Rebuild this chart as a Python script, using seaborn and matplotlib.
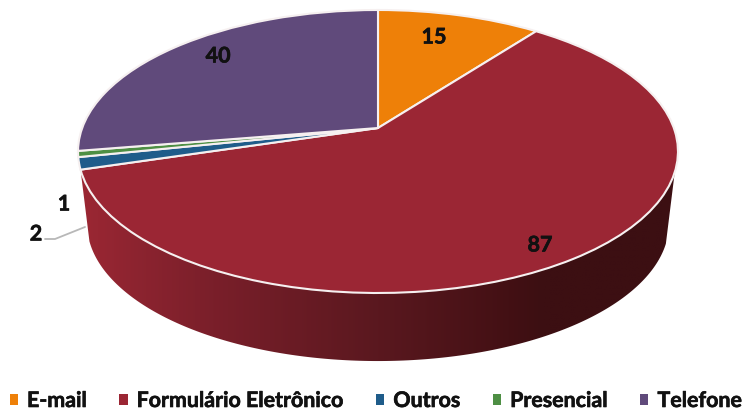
import numpy as np
import matplotlib
matplotlib.use("Agg")
import matplotlib.pyplot as plt
import matplotlib.patheffects as pe
import seaborn as sns
from matplotlib.colors import LinearSegmentedColormap
from matplotlib.patches import Patch, Polygon
from matplotlib.transforms import Transform

categories = ["E-mail", "Formulário Eletrônico", "Outros", "Presencial", "Telefone"]
values = [15, 87, 2, 1, 40]
colors = ["#ee8008", "#9b2634", "#1f5c8a", "#4e8f44", "#604a7b"]
label_px = [(434, 37), (540, 245), (36, 234), (64, 204), (218, 56)]

sns.set_theme(style="white")
plt.rcParams["font.family"] = ["Lato", "DejaVu Sans"]
plt.rcParams["font.weight"] = "bold"

W, H = 744, 412
CX, CY, A, B, K = 378.0, 128.0, 295.8, 137.6, 0.166
WALL_SCALE, WALL_DROP = 0.97, 73.0
WALL_END_DEG = -17.7
HEAVY = [pe.withStroke(linewidth=0.45, foreground="#111111")]


class Perspective(Transform):
    """Tilts the unit-circle pie into pixel space."""
    input_dims = 2
    output_dims = 2
    is_separable = False
    has_inverse = False

    def transform_non_affine(self, v):
        v = np.asarray(v, dtype=float)
        w = 1 + K * v[:, 1]
        return np.column_stack([CX + A * v[:, 0] / w, CY - B * v[:, 1] / w])


persp = Perspective()
fig = plt.figure(figsize=(W / 100, H / 100), dpi=100)
ax = fig.add_axes([0, 0, 1, 1])

wedges, _ = ax.pie(values, colors=colors, startangle=90, counterclock=False,
                   wedgeprops=dict(edgecolor="#f6f0f0", linewidth=1.5))
for wd in wedges:
    wd.set_transform(persp + ax.transData)
    wd.set_zorder(3)

# side wall of the large slice
t = np.radians(np.linspace(wedges[1].theta1, WALL_END_DEG, 200))
top = persp.transform_non_affine(np.column_stack([np.cos(t), np.sin(t)]))
bot = top.copy()
bot[:, 0] = CX + (top[:, 0] - CX) * WALL_SCALE
bot[:, 1] = CY + (top[:, 1] - CY) * WALL_SCALE + WALL_DROP
cmap = LinearSegmentedColormap.from_list("wall", [
    (0.00, "#9b2733"), (0.08, "#8e2430"), (0.22, "#7a1f2a"), (0.50, "#5a181f"),
    (0.72, "#431014"), (0.78, "#3c0f12"), (1.00, "#3c0f12")])
grad = np.linspace(0, 1, 600)[None, :]
im = ax.imshow(grad, cmap=cmap, aspect="auto", extent=(top[:, 0].min(), top[:, 0].max(), 380, 100),
               zorder=2, interpolation="bilinear")
poly = Polygon(np.vstack([top, bot[::-1]]), closed=True, transform=ax.transData,
               facecolor="none", edgecolor="none")
ax.add_patch(poly)
im.set_clip_path(poly)

ax.set_aspect("auto")
ax.set_xlim(0, W)
ax.set_ylim(H, 0)
ax.set_frame_on(False)
ax.set_xticks([])
ax.set_yticks([])

for val, (lx, ly) in zip(values, label_px):
    ax.text(lx, ly, str(val), ha="center", va="center", fontsize=15.5,
            fontweight="bold", color="#111111", zorder=5, path_effects=HEAVY)

ax.plot([45, 55, 85], [239, 239, 227], color="#b8b8b8", lw=1.3, zorder=4)

handles = [Patch(facecolor=c, edgecolor="none", label=n) for c, n in zip(colors, categories)]
leg = ax.legend(handles=handles, ncol=5, loc="center", bbox_to_anchor=(376 / W, 1 - 401 / H),
                frameon=False, fontsize=15.4, handlelength=0.38, handleheight=0.42,
                handletextpad=0.42, columnspacing=1.53, borderpad=0, borderaxespad=0,
                labelcolor="#111111")
for txt in leg.get_texts():
    txt.set_path_effects(HEAVY)

fig.savefig("out.png", dpi=100, facecolor="white")
